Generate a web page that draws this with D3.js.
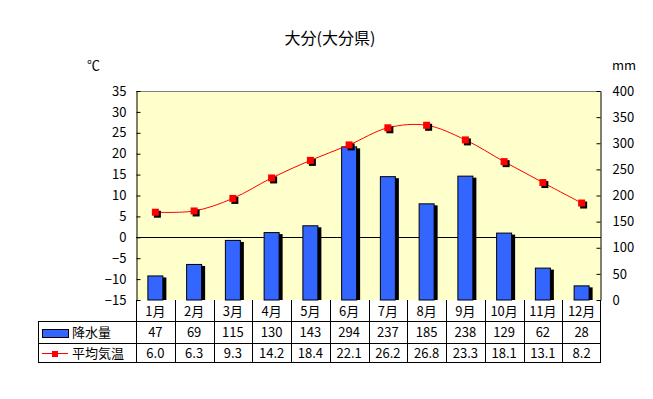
<!DOCTYPE html>
<meta charset="utf-8">
<style>
  body { margin: 0; background: white; }
  text { font-family: "Noto Sans CJK JP", "DejaVu Sans", sans-serif; font-size: 13px; fill: black; }
  .title { font-size: 16px; text-anchor: middle; }
  .cell { text-anchor: middle; }
</style>
<body>
<script src="https://cdn.jsdelivr.net/npm/d3@7/dist/d3.min.js"></script>
<script>

// data
const months = ["1月","2月","3月","4月","5月","6月","7月","8月","9月","10月","11月","12月"]
const rain = [47, 69, 115, 130, 143, 294, 237, 185, 238, 129, 62, 28]
const temp = [6.0, 6.3, 9.3, 14.2, 18.4, 22.1, 26.2, 26.8, 23.3, 18.1, 13.1, 8.2]
const tempTicks = [-15, -10, -5, 0, 5, 10, 15, 20, 25, 30, 35]
const rainTicks = [0, 50, 100, 150, 200, 250, 300, 350, 400]

const colors = {bg: '#FFFFCC', bar: '#3366FF', line: '#FF0000'}

// layout
const plot = {left: 136, right: 601, top: 91, bottom: 300}
const rowH = [21, 22, 19]
const legendLeft = 38

const svg = d3.select("body")
  .append("svg")
    .attr("width", 653)
    .attr("height", 399)

const x = d3.scaleBand()
    .domain(months)
    .range([plot.left, plot.right])

const yT = d3.scaleLinear()
    .domain([-15, 35])
    .range([plot.bottom, plot.top])

const yR = d3.scaleLinear()
    .domain([0, 400])
    .range([plot.bottom, plot.top])

// title
svg.append("text")
  .attr("class", "title")
  .attr("x", 330)
  .attr("y", 44)
  .text("大分(大分県)")

svg.append("text")
  .attr("x", 87)
  .attr("y", 70)
  .text("℃")

svg.append("text")
  .attr("x", 612)
  .attr("y", 70)
  .text("mm")

// plot background
svg.append("rect")
  .attr("x", plot.left)
  .attr("y", plot.top)
  .attr("width", plot.right - plot.left)
  .attr("height", plot.bottom - plot.top)
  .attr("fill", colors.bg)

svg.append("line")
  .attr("x1", plot.left).attr("x2", plot.right)
  .attr("y1", plot.top + 0.5).attr("y2", plot.top + 0.5)
  .attr("stroke", "#808080")

// axes
const axL = svg.append("g")
  .attr("transform", `translate(${plot.left + 0.5}, 0)`)
  .call(d3.axisLeft(yT).tickValues(tempTicks).tickSizeInner(-4).tickSizeOuter(0).tickPadding(10)
    .tickFormat(d => d < 0 ? "\u2212" + Math.abs(d) : d))
axL.selectAll("text").style("font-size", "13px")

const axR = svg.append("g")
  .attr("transform", `translate(${plot.right - 0.5}, 0)`)
  .call(d3.axisRight(yR).tickValues(rainTicks).tickSizeInner(-4).tickSizeOuter(0).tickPadding(12))
axR.selectAll("text").style("font-size", "13px")
svg.selectAll(".domain, .tick line").attr("stroke", "black")

// zero line
svg.append("line")
  .attr("x1", plot.left).attr("x2", plot.right)
  .attr("y1", Math.round(yT(0)) + 0.5).attr("y2", Math.round(yT(0)) + 0.5)
  .attr("stroke", "black")

// bars
const barW = 16
const bars = svg.append("g")
bars.selectAll(".shadow")
  .data(rain)
  .enter().append("rect")
    .attr("class", "shadow")
    .attr("x", (d, i) => x(months[i]) + x.bandwidth() / 2 - barW / 2 + 3)
    .attr("y", d => yR(d) + 2)
    .attr("width", barW)
    .attr("height", d => plot.bottom - yR(d) - 2)
    .attr("fill", "black")
bars.selectAll(".bar")
  .data(rain)
  .enter().append("rect")
    .attr("class", "bar")
    .attr("x", (d, i) => x(months[i]) + x.bandwidth() / 2 - barW / 2 + 0.5)
    .attr("y", d => yR(d) + 0.5)
    .attr("width", barW - 1)
    .attr("height", d => plot.bottom - yR(d) - 0.5)
    .attr("fill", colors.bar)
    .attr("stroke", "black")

// temperature line
const line = d3.line()
  .x((d, i) => x(months[i]) + x.bandwidth() / 2)
  .y(d => yT(d))
  .curve(d3.curveCatmullRom.alpha(0.5))

svg.append("path")
  .datum(temp)
  .attr("d", line)
  .attr("fill", "none")
  .attr("stroke", colors.line)
  .attr("stroke-width", 1)

const mk = 7
svg.selectAll(".mshadow")
  .data(temp)
  .enter().append("rect")
    .attr("x", (d, i) => x(months[i]) + x.bandwidth() / 2 - mk / 2 + 2)
    .attr("y", d => yT(d) - mk / 2 + 2)
    .attr("width", mk).attr("height", mk)
    .attr("fill", "black")
svg.selectAll(".marker")
  .data(temp)
  .enter().append("rect")
    .attr("x", (d, i) => x(months[i]) + x.bandwidth() / 2 - mk / 2)
    .attr("y", d => yT(d) - mk / 2)
    .attr("width", mk).attr("height", mk)
    .attr("fill", colors.line)

// data table
const t = svg.append("g")
const y0 = plot.bottom, y1 = y0 + rowH[0], y2 = y1 + rowH[1], y3 = y2 + rowH[2]

function hline(xa, xb, yy) {
  t.append("line").attr("x1", xa).attr("x2", xb).attr("y1", yy + 0.5).attr("y2", yy + 0.5).attr("stroke", "black")
}
function vline(xx, ya, yb) {
  t.append("line").attr("x1", xx + 0.5).attr("x2", xx + 0.5).attr("y1", ya).attr("y2", yb).attr("stroke", "black")
}
hline(legendLeft, plot.right, y1)
hline(legendLeft, plot.right, y2)
hline(legendLeft, plot.right, y3)
vline(legendLeft, y1, y3 + 1)
months.forEach(m => vline(Math.round(x(m)), y0, y3 + 1))
vline(plot.right - 1, y0, y3 + 1)

t.selectAll(".month")
  .data(months)
  .enter().append("text")
    .attr("class", "cell")
    .attr("x", d => x(d) + x.bandwidth() / 2)
    .attr("y", y0 + 16)
    .text(d => d)

t.selectAll(".rain")
  .data(rain)
  .enter().append("text")
    .attr("class", "cell")
    .attr("x", (d, i) => x(months[i]) + x.bandwidth() / 2)
    .attr("y", y1 + 16)
    .text(d => d)

t.selectAll(".temp")
  .data(temp)
  .enter().append("text")
    .attr("class", "cell")
    .attr("x", (d, i) => x(months[i]) + x.bandwidth() / 2)
    .attr("y", y2 + 15)
    .text(d => d.toFixed(1))

// legend keys
t.append("rect")
  .attr("x", 42.5).attr("y", y1 + 8.5)
  .attr("width", 26).attr("height", 8)
  .attr("fill", colors.bar).attr("stroke", "black")
t.append("text").attr("x", 72).attr("y", y1 + 16).text("降水量")

t.append("line")
  .attr("x1", 42).attr("x2", 68)
  .attr("y1", y2 + 10.5).attr("y2", y2 + 10.5)
  .attr("stroke", colors.line)
t.append("rect")
  .attr("x", 52).attr("y", y2 + 8)
  .attr("width", 6).attr("height", 6)
  .attr("fill", colors.line)
t.append("text").attr("x", 72).attr("y", y2 + 15).text("平均気温")

</script>
</body>
